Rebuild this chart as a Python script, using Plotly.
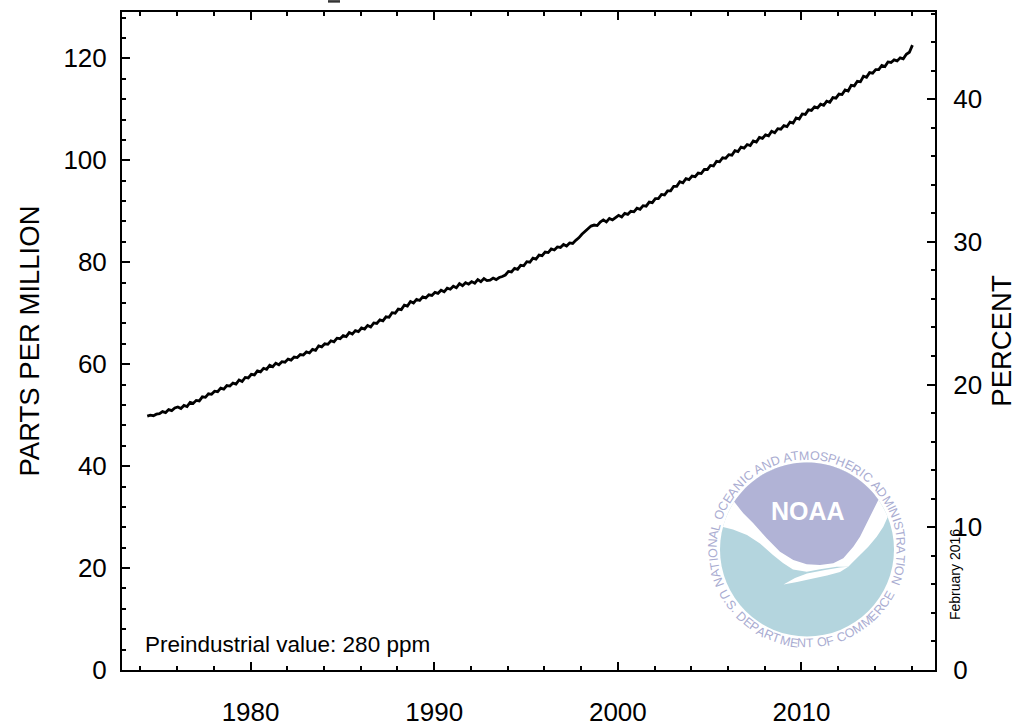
import numpy as np
import plotly.graph_objects as go

# CO2 above the preindustrial level (ppm), sampled six times a year from 1974.375
PREINDUSTRIAL_PPM = 280
first_sample_year = 1974.375
samples_per_year = 6
ppm_above_preindustrial = [
    49.8, 50.0, 49.9, 50.2,                      # 1974
    50.3, 50.7, 50.5, 51.1, 50.9, 51.4,          # 1975
    51.6, 51.3, 51.9, 51.7, 52.5, 52.3,          # 1976
    52.9, 52.8, 53.6, 53.5, 54.2, 54.1,          # 1977
    54.7, 54.6, 55.3, 55.1, 55.8, 55.7,          # 1978
    56.3, 56.1, 56.9, 56.6, 57.4, 57.3,          # 1979
    58.0, 57.9, 58.7, 58.5, 59.2, 59.0,          # 1980
    59.8, 59.5, 60.2, 59.9, 60.5, 60.4,          # 1981
    61.0, 60.8, 61.4, 61.3, 61.9, 61.8,          # 1982
    62.4, 62.2, 62.9, 62.7, 63.6, 63.4,          # 1983
    64.0, 63.9, 64.6, 64.4, 65.1, 65.0,          # 1984
    65.6, 65.4, 66.2, 65.9, 66.6, 66.4,          # 1985
    67.1, 66.9, 67.6, 67.3, 68.1, 68.0,          # 1986
    68.7, 68.5, 69.3, 69.2, 70.1, 70.0,          # 1987
    70.8, 70.7, 71.6, 71.4, 72.3, 72.0,          # 1988
    72.7, 72.5, 73.2, 73.0, 73.6, 73.5,          # 1989
    74.1, 73.9, 74.5, 74.2, 74.9, 74.7,          # 1990
    75.3, 75.0, 75.8, 75.4, 76.0, 75.7,          # 1991
    76.2, 75.9, 76.6, 76.2, 76.8, 76.4,          # 1992
    76.5, 76.9, 76.6, 77.0, 77.2, 77.5,          # 1993
    78.2, 78.1, 78.8, 78.6, 79.4, 79.3,          # 1994
    80.1, 80.0, 80.8, 80.6, 81.4, 81.3,          # 1995
    82.0, 81.9, 82.6, 82.4, 83.0, 82.9,          # 1996
    83.5, 83.2, 83.8, 83.7, 84.3, 84.8,          # 1997
    85.5, 86.0, 86.6, 87.1, 87.3, 87.2,          # 1998
    87.9, 88.3, 87.9, 88.6, 88.3, 88.7,          # 1999
    89.2, 88.9, 89.6, 89.4, 90.0, 89.9,          # 2000
    90.6, 90.4, 91.1, 91.0, 91.8, 91.7,          # 2001
    92.5, 92.5, 93.3, 93.2, 94.0, 94.0,          # 2002
    94.9, 94.9, 95.8, 95.6, 96.4, 96.2,          # 2003
    96.9, 96.8, 97.5, 97.4, 98.2, 98.2,          # 2004
    99.0, 98.9, 99.8, 99.7, 100.5, 100.4,        # 2005
    101.1, 101.0, 101.9, 101.7, 102.6, 102.4,    # 2006
    103.1, 102.9, 103.8, 103.6, 104.5, 104.3,    # 2007
    105.0, 104.8, 105.7, 105.4, 106.2, 106.1,    # 2008
    106.8, 106.6, 107.5, 107.3, 108.3, 108.1,    # 2009
    109.1, 109.0, 109.9, 109.8, 110.5, 110.3,    # 2010
    111.0, 110.8, 111.6, 111.4, 112.3, 112.2,    # 2011
    113.0, 112.9, 113.8, 113.6, 114.7, 114.6,    # 2012
    115.5, 115.4, 116.5, 116.3, 117.2, 117.1,    # 2013
    117.8, 117.8, 118.6, 118.4, 119.3, 119.2,    # 2014
    119.7, 119.5, 120.1, 119.9, 120.8, 121.2,    # 2015
    122.6,                                       # 2016
]
sample_years = [first_sample_year + i / samples_per_year
                for i in range(len(ppm_above_preindustrial))]
percent_above = [v / PREINDUSTRIAL_PPM * 100 for v in ppm_above_preindustrial]

year_tick_start, year_tick_step = 1980, 10
ppm_tick_step = 20
percent_tick_step = 10

X_RANGE = [1973.0, 2017.27]
PPM_MAX = 129.1

FONT = "Liberation Sans, Arial, Helvetica, sans-serif"

# plot-area pixel frame, used to place the logo in paper coordinates
PX_LEFT, PX_RIGHT, PX_TOP, PX_BOTTOM = 122, 935, 12, 670


def to_paper(px, py):
    return ((px - PX_LEFT) / (PX_RIGHT - PX_LEFT),
            (PX_BOTTOM - py) / (PX_BOTTOM - PX_TOP))


def path_from(points):
    pts = [to_paper(x, y) for x, y in points]
    return "M " + " L ".join(f"{x:.5f},{y:.5f}" for x, y in pts) + " Z"


LOGO_CX, LOGO_CY, LOGO_R = 807, 549.5, 87
TEXT_R = 94
PURPLE = "#b1b3d6"
TEAL = "#b4d5de"
RING_TEXT = "#a9acd1"


def arc(theta0, theta1, r=LOGO_R, n=48):
    th = np.radians(np.linspace(theta0, theta1, n))
    return [(LOGO_CX + r * np.cos(t), LOGO_CY - r * np.sin(t)) for t in th]


fig = go.Figure()
fig.add_trace(go.Scatter(
    x=sample_years, y=ppm_above_preindustrial, mode="lines",
    line=dict(color="black", width=2.8), hoverinfo="skip", showlegend=False))
fig.add_trace(go.Scatter(
    x=sample_years, y=percent_above, yaxis="y2", mode="lines",
    line=dict(color="rgba(0,0,0,0)", width=0), hoverinfo="skip", showlegend=False))

shapes = []
# light-blue disc
x0, y0 = to_paper(LOGO_CX - LOGO_R, LOGO_CY + LOGO_R)
x1, y1 = to_paper(LOGO_CX + LOGO_R, LOGO_CY - LOGO_R)
shapes.append(dict(type="circle", xref="paper", yref="paper", x0=x0, y0=y0, x1=x1, y1=y1,
                   fillcolor=TEAL, line=dict(width=0), layer="below"))
# white gull: wings across the disc
wing_edge = [(733, 529.5), (747, 535), (760, 543.5), (773, 555), (783, 563), (793, 569.5),
             (806.7, 571.7), (820, 569.3), (836.7, 566.7), (848.3, 566.7), (851.7, 563.3),
             (860, 555), (868.3, 546.7), (876.7, 536.7), (883.3, 526.7)]
shapes.append(dict(type="path", xref="paper", yref="paper", layer="below",
                   path=path_from(arc(21.9, 165) + wing_edge),
                   fillcolor="white", line=dict(width=0)))
# gull tail
tail = [(848.3, 566.7), (840, 572), (827, 575.5), (813, 578.5), (797, 582), (783.5, 584.5),
        (795, 578), (807, 573.5), (825, 570), (840, 567.5)]
shapes.append(dict(type="path", xref="paper", yref="paper", layer="below",
                   path=path_from(tail), fillcolor="white", line=dict(width=0)))
# upper (sky) region
sky_edge = [(743.3, 513.3), (753.3, 523.3), (766.7, 538.3), (780, 551.7), (793.3, 560),
            (806.7, 564.3), (820, 565), (833.3, 563.3), (843.3, 558.3), (853.3, 546.7),
            (860, 536.7), (866.7, 523.3), (873.3, 510)]
shapes.append(dict(type="path", xref="paper", yref="paper", layer="below",
                   path=path_from(arc(34.8, 146.8) + sky_edge),
                   fillcolor=PURPLE, line=dict(width=0)))
# short dark mark above the frame
mx0, my = to_paper(328, 1.4)
mx1, _ = to_paper(340, 1.4)
shapes.append(dict(type="line", xref="paper", yref="paper", x0=mx0, x1=mx1, y0=my, y1=my,
                   line=dict(color="#333333", width=2.5)))

annotations = []
CHAR_W = {" ": 0.30, ".": 0.30, "I": 0.30, "M": 0.83, "O": 0.78, "G": 0.78, "C": 0.72,
          "D": 0.72, "N": 0.72, "R": 0.72, "H": 0.72, "U": 0.72, "T": 0.61, "F": 0.61,
          "L": 0.56}


def ring_text(text, theta_start, theta_end, top):
    widths = [CHAR_W.get(c, 0.67) for c in text]
    total = sum(widths)
    acc = 0.0
    for c, w in zip(text, widths):
        frac = (acc + w / 2) / total
        acc += w
        if c == " ":
            continue
        th = theta_start + frac * (theta_end - theta_start)
        px = LOGO_CX + TEXT_R * np.cos(np.radians(th))
        py = LOGO_CY - TEXT_R * np.sin(np.radians(th))
        ax, ay = to_paper(px, py)
        angle = (90 - th) if top else (270 - th)
        annotations.append(dict(x=ax, y=ay, xref="paper", yref="paper", text=c,
                                showarrow=False, textangle=angle, xanchor="center",
                                yanchor="middle",
                                font=dict(family=FONT, size=12.5, color=RING_TEXT)))


ring_text("NATIONAL OCEANIC AND ATMOSPHERIC ADMINISTRATION", 203, -22, top=True)
ring_text("U.S. DEPARTMENT OF COMMERCE", 206, 333, top=False)

nx, ny = to_paper(808, 511)
annotations.append(dict(x=nx, y=ny, xref="paper", yref="paper", text="<b>NOAA</b>",
                        showarrow=False, xanchor="center", yanchor="middle",
                        font=dict(family=FONT, size=25, color="white")))

annotations.append(dict(x=1974.15, y=5.1, xref="x", yref="y",
                        text="Preindustrial value: 280 ppm", showarrow=False,
                        xanchor="left", yanchor="middle",
                        font=dict(family=FONT, size=22.5, color="black")))

fx, fy = to_paper(955, 575)
annotations.append(dict(x=fx, y=fy, xref="paper", yref="paper", text="February 2016",
                        showarrow=False, textangle=-90, xanchor="center", yanchor="middle",
                        font=dict(family=FONT, size=14, color="black")))

axis_common = dict(
    showgrid=False, zeroline=False, showline=True, linecolor="black", linewidth=2,
    ticks="inside", ticklen=8, tickwidth=2, tickcolor="black", automargin=False,
    layer="above traces",
    tickfont=dict(family=FONT, size=26, color="black"),
)
minor_common = dict(ticks="inside", ticklen=4, tickwidth=2, tickcolor="black")

fig.update_layout(
    width=1017, height=727,
    margin=dict(l=PX_LEFT, r=1017 - PX_RIGHT, t=PX_TOP, b=727 - PX_BOTTOM),
    paper_bgcolor="white", plot_bgcolor="white",
    font=dict(family=FONT, color="black"),
    showlegend=False,
    xaxis=dict(range=X_RANGE, tickmode="linear", tick0=year_tick_start, dtick=year_tick_step,
               mirror="ticks", minor=dict(dtick=2, tick0=1974, **minor_common),
               ticklabelstandoff=18, **axis_common),
    yaxis=dict(range=[0, PPM_MAX], tickmode="linear", tick0=0, dtick=ppm_tick_step,
               minor=dict(dtick=4, tick0=0, **minor_common),
               ticklabelstandoff=8,
               title=dict(text="PARTS PER MILLION", standoff=16,
                          font=dict(family=FONT, size=27.5, color="black")),
               **axis_common),
    yaxis2=dict(range=[0, PPM_MAX / PREINDUSTRIAL_PPM * 100], overlaying="y", side="right",
                tickmode="linear", tick0=0, dtick=percent_tick_step,
                minor=dict(dtick=2, tick0=0, **minor_common),
                ticklabelstandoff=11,
                title=dict(text="PERCENT", standoff=12,
                           font=dict(family=FONT, size=27.5, color="black")),
                **axis_common),
    shapes=shapes,
    annotations=annotations,
)

fig.write_html("out.html")
